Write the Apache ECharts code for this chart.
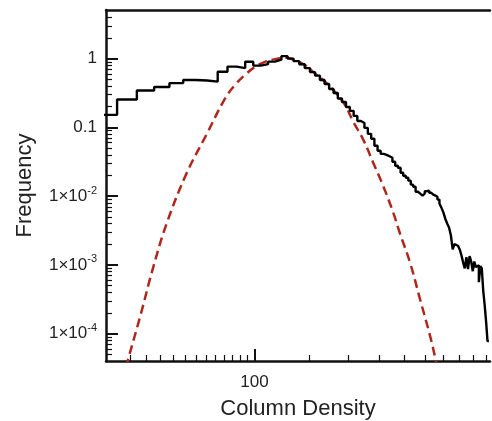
<!DOCTYPE html>
<html><head><meta charset="utf-8">
<script src="https://cdn.jsdelivr.net/npm/echarts@6/dist/echarts.min.js"></script>
<style>html,body{margin:0;padding:0;background:#fff}#c{width:492px;height:421px}</style>
</head><body><div id="c"></div>
<script>
// Histogram bin edges (column density) and frequencies
const binEdges = [30.7, 36.4, 42.1, 47.8, 53.5, 59.2, 64.9, 70.6, 76.3, 82.0, 87.7, 93.4, 99.1, 104.8, 110.5, 116.2, 121.9, 127.6, 133.3, 139.0, 144.7, 150.4, 156.1, 161.8, 167.5, 173.2, 178.9, 184.6, 190.3, 196.0, 201.7, 207.4, 213.1, 218.8, 224.5, 230.2, 235.9, 241.6, 247.3, 253.0, 258.7, 264.4, 270.1, 275.8, 281.5, 287.2, 292.9, 298.6, 304.3, 310.0, 315.7, 321.4, 327.1, 332.8, 338.5, 344.2, 349.9, 355.6, 361.3, 367.0, 372.7, 378.4, 384.1, 389.8, 395.5, 401.2, 406.9, 412.6, 418.3, 424.0, 429.7, 435.4, 441.1, 446.8, 452.5, 458.2, 463.9, 469.6, 475.3, 481.0, 486.7, 492.4, 498.1, 503.8, 509.5, 515.2, 520.9, 526.6, 532.3, 538.0, 543.7, 549.4, 555.1, 560.8];
const frequency = [0.152, 0.255, 0.344, 0.386, 0.441, 0.488, 0.48, 0.464, 0.644, 0.766, 0.728, 0.899, 0.792, 0.832, 0.905, 0.967, 1.087, 1.0, 0.92, 0.83, 0.728, 0.637, 0.567, 0.488, 0.427, 0.361, 0.316, 0.263, 0.234, 0.198, 0.174, 0.147, 0.124, 0.116, 0.0984, 0.0805, 0.0684, 0.054, 0.0457, 0.0412, 0.0399, 0.038, 0.0362, 0.0317, 0.0277, 0.0259, 0.0219, 0.0198, 0.0185, 0.0168, 0.0147, 0.0137, 0.0116, 0.0109, 0.0102, 0.0109, 0.0118, 0.012, 0.0112, 0.0105, 0.0102, 0.0098, 0.0089, 0.0078, 0.0068, 0.0058, 0.0047, 0.004, 0.0035, 0.0027, 0.00168, 0.002, 0.0019, 0.0019, 0.00168, 0.00138, 0.00109, 0.00089, 0.0013, 0.00087, 0.00134, 0.00112, 0.00081, 0.00112, 0.00093, 0.00099, 0.00056, 0.00096, 0.00089, 0.00042, 0.00026, 0.00015, 0.000078];
// Lognormal fit (dashed)
const fitDensity = [38.9, 39.5, 43.1, 47.5, 52.4, 60.7, 70.4, 80.5, 86.6, 93.2, 100.4, 108.0, 116.3, 126.7, 134.7, 145.0, 156.1, 168.0, 180.8, 194.6, 206.9, 222.7, 239.7, 258.0, 277.7, 291.6, 314.0, 338.0, 363.8, 377.4, 383.0];
const fitFrequency = [0.000032, 0.0000427, 0.000175, 0.00093, 0.00399, 0.0215, 0.0800, 0.262, 0.413, 0.577, 0.76, 0.899, 0.984, 1.027, 0.951, 0.805, 0.61, 0.461, 0.33, 0.212, 0.12, 0.0659, 0.0303, 0.0139, 0.00571, 0.00286, 0.00108, 0.000316, 0.000093, 0.0000456, 0.0000327];
// Axis ticks
const xRange = [33.55, 565.4];
const yRange = [0.00004, 5.1];
const xMajorTicks = [100];
const xMinorTicks = [40, 45, 50, 55, 60, 65, 70, 75, 80, 85, 90, 95, 150, 200, 250, 300, 350, 400, 450, 500, 550];
const yMajorTicks = [0.0001, 0.001, 0.01, 0.1, 1];
const yMinorTicks = [0.00005, 0.00006, 0.00007, 0.00008, 0.00009, 0.0002, 0.0003, 0.0004, 0.0005, 0.0006, 0.0007, 0.0008, 0.0009, 0.002, 0.003, 0.004, 0.005, 0.006, 0.007, 0.008, 0.009, 0.02, 0.03, 0.04, 0.05, 0.06, 0.07, 0.08, 0.09, 0.2, 0.3, 0.4, 0.5, 0.6, 0.7, 0.8, 0.9, 2, 3, 4];

const lg = Math.log10;
const FONT = "'Liberation Sans', Arial, Helvetica, sans-serif";
const TXT = '#222';
const LINE = '#111';

const histData = binEdges.map((e, i) => [lg(e), lg(frequency[Math.min(i, frequency.length - 1)])]);
const fitData = fitDensity.map((d, i) => [lg(d), lg(fitFrequency[i])]);

const xmin = lg(xRange[0]), xmax = lg(xRange[1]);
const ymin = lg(yRange[0]), ymax = lg(yRange[1]);

function yLabel(v) {
  const e = Math.round(v);
  if (e === 0) return '{n|1}';
  if (e === -1) return '{n|0.1}';
  return '{n|1×10}{s|' + e + '}';
}

const chart = echarts.init(document.getElementById('c'), null, {renderer: 'canvas'});
chart.setOption({
  animation: false,
  grid: {left: 106, top: 10, width: 384, height: 351, containLabel: false, outerBoundsMode: 'none'},
  xAxis: [
    {
      type: 'value', position: 'bottom', min: xmin, max: xmax,
      axisLine: {show: true, onZero: false, lineStyle: {color: LINE, width: 2.5}},
      axisTick: {show: true, inside: true, length: 12, customValues: xMajorTicks.map(lg), lineStyle: {color: LINE, width: 2}},
      axisLabel: {show: true, customValues: xMajorTicks.map(lg), margin: 13, fontSize: 17, color: TXT, fontFamily: FONT,
        formatter: v => String(Math.round(Math.pow(10, v)))},
      splitLine: {show: false},
      name: 'Column Density', nameLocation: 'middle', nameGap: 37,
      nameTextStyle: {fontSize: 22, color: TXT, fontFamily: FONT}
    },
    {
      type: 'value', position: 'bottom', min: xmin, max: xmax,
      axisLine: {show: false, onZero: false},
      axisTick: {show: true, inside: true, length: 6, customValues: xMinorTicks.map(lg), lineStyle: {color: LINE, width: 1.2}},
      axisLabel: {show: false},
      splitLine: {show: false}
    },
    {
      type: 'value', position: 'top', min: xmin, max: xmax,
      axisLine: {show: true, onZero: false, lineStyle: {color: LINE, width: 2.5}},
      axisTick: {show: false}, axisLabel: {show: false}, splitLine: {show: false}
    }
  ],
  yAxis: [
    {
      type: 'value', position: 'left', min: ymin, max: ymax,
      axisLine: {show: true, onZero: false, lineStyle: {color: LINE, width: 2.5}},
      axisTick: {show: true, inside: true, length: 12, customValues: yMajorTicks.map(lg), lineStyle: {color: LINE, width: 2}},
      axisLabel: {show: true, customValues: yMajorTicks.map(lg), margin: 9, color: TXT, fontFamily: FONT,
        formatter: yLabel,
        rich: {
          n: {fontSize: 17, lineHeight: 22, color: TXT, fontFamily: FONT},
          s: {fontSize: 11, verticalAlign: 'top', color: TXT, fontFamily: FONT}
        }},
      splitLine: {show: false},
      name: 'Frequency', nameLocation: 'middle', nameGap: 70,
      nameTextStyle: {fontSize: 22, color: TXT, fontFamily: FONT}
    },
    {
      type: 'value', position: 'left', min: ymin, max: ymax,
      axisLine: {show: false, onZero: false},
      axisTick: {show: true, inside: true, length: 6, customValues: yMinorTicks.map(lg), lineStyle: {color: LINE, width: 1.2}},
      axisLabel: {show: false},
      splitLine: {show: false}
    }
  ],
  series: [
    {
      type: 'line', xAxisIndex: 0, yAxisIndex: 0, data: fitData, smooth: 0.4,
      showSymbol: false, symbol: 'none', clip: true,
      lineStyle: {color: '#b0261c', width: 2.5, type: [9, 5]}
    },
    {
      type: 'line', xAxisIndex: 0, yAxisIndex: 0, data: histData, step: 'end',
      showSymbol: false, symbol: 'none', clip: true,
      lineStyle: {color: '#000', width: 2.4}
    }
  ]
});
</script>
</body></html>
